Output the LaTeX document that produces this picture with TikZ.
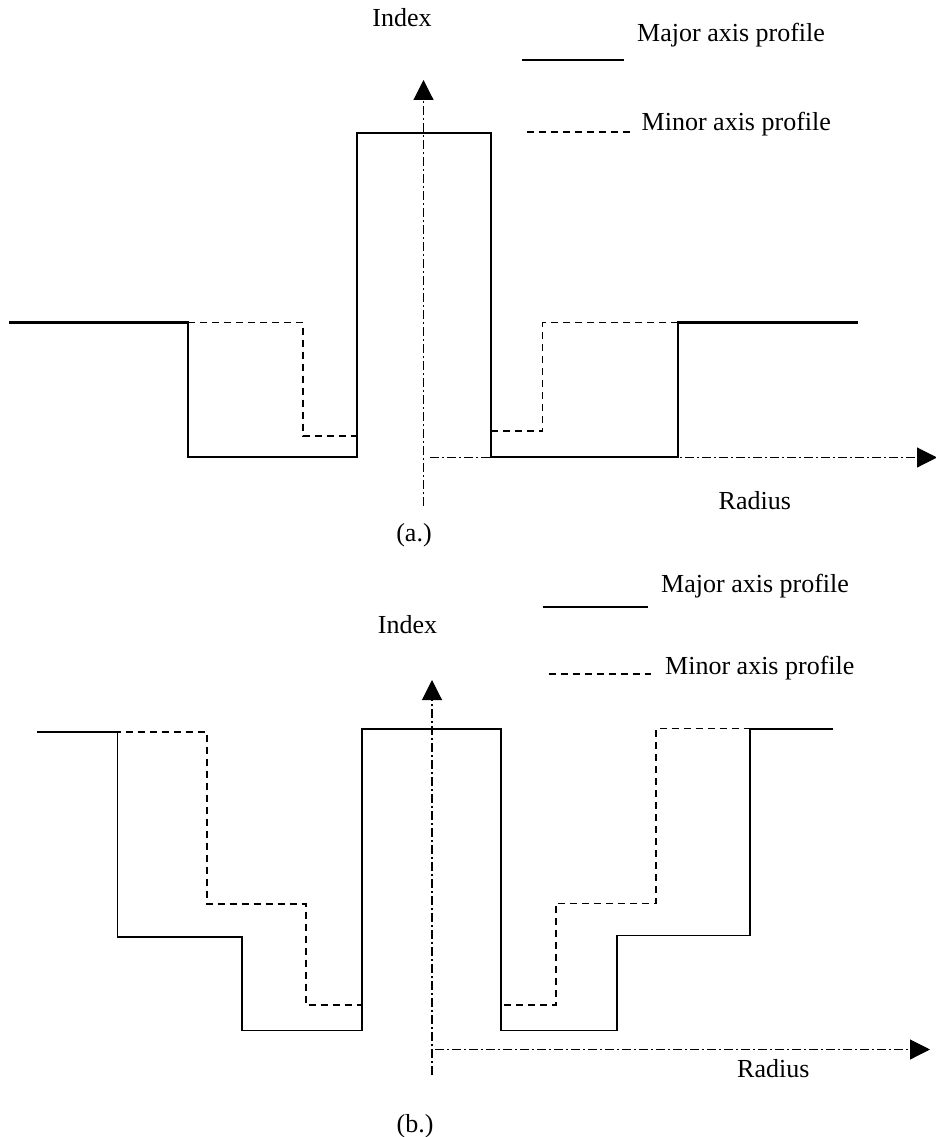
\documentclass[tikz,border=0pt]{standalone}
\usepackage{fontspec}
\setmainfont{Liberation Serif}
\usetikzlibrary{arrows.meta}
\begin{document}
\begin{tikzpicture}[x=1pt,y=-1pt,
  major/.style={line width=2.2pt, line join=miter},
  majorb/.style={line width=1.9pt, line join=miter},
  minor/.style={line width=1.7pt, dash pattern=on 7pt off 5pt},
  axisline/.style={line width=1.1pt, dash pattern=on 9pt off 3pt on 2pt off 3pt,
    -{Triangle[length=20pt,width=20pt]}},
  lbl/.style={font=\fontsize{26}{30}\selectfont, inner sep=0pt}]
\fill[white] (0,0) rectangle (935,1137);
\useasboundingbox (0,0) rectangle (935,1137);

% ---------------- (a) ----------------
\node[lbl, anchor=base] (aIndex) at (402,27) {Index};
\node[lbl, anchor=base west] (aMajor) at (637,41.5) {Major axis profile};
\node[lbl, anchor=base west] (aMinor) at (641.5,131) {Minor axis profile};
\node[lbl, anchor=base west] (aRadius) at (718.5,509) {Radius};
\node[lbl, anchor=base] (aCap) at (414,541) {(a.)};

\draw[major] (522,60) -- (624,60);
\draw[minor] (526.5,132) -- (630,132);

% step-index profile along the major axis
\draw[major] (9,322.5) -- (188,322.5) -- (188,457) -- (357,457) -- (357,133)
  -- (491,133) -- (491,457) -- (678,457) -- (678,322.5) -- (857.5,322.5);
% profile along the minor axis
\draw[minor] (188,322.5) -- (303,322.5) -- (303,436) -- (357,436);
\draw[minor] (491,431) -- (542.6,431) -- (542.6,322.5) -- (678,322.5);

% axes
\coordinate (aVbot) at (423.5,506);
\coordinate (aVtop) at (423.5,80);
\coordinate (aHbeg) at (430,457.5);
\coordinate (aHend) at (937,457.5);
\draw[axisline] (aVbot) -- (aVtop);
\draw[axisline] (aHbeg) -- (aHend);

% ---------------- (b) ----------------
\node[lbl, anchor=base west] (bMajor) at (661,592) {Major axis profile};
\node[lbl, anchor=base] (bIndex) at (407.5,633) {Index};
\node[lbl, anchor=base west] (bMinor) at (665,674) {Minor axis profile};
\node[lbl, anchor=base west] (bRadius) at (737,1077) {Radius};
\node[lbl, anchor=base] (bCap) at (415,1132) {(b.)};

\draw[majorb] (542.6,607) -- (648,607);
\draw[minor] (548.6,674) -- (651,674);

% multi-step profile along the major axis
\draw[majorb] (37,732) -- (117.5,732) -- (117.5,937) -- (242,937) -- (242,1030.5)
  -- (362,1030.5) -- (362,728.6) -- (501,728.6) -- (501,1030.5) -- (617,1030.5)
  -- (617,935.5) -- (749.6,935.5) -- (749.6,728.6) -- (833,728.6);
% profile along the minor axis
\draw[minor] (77.5,732) -- (207,732) -- (207,904) -- (306,904) -- (306,1005) -- (361,1005);
\draw[minor] (504,1005) -- (556,1005) -- (556,903.4) -- (656,903.4) -- (656,728.6) -- (781,728.6);

% axes
\coordinate (bVbot) at (432,1075);
\coordinate (bVtop) at (432,680);
\coordinate (bHbeg) at (435,1049.5);
\coordinate (bHend) at (930,1049.5);
\draw[axisline] (bVbot) -- (bVtop);
\draw[axisline] (bHbeg) -- (bHend);
\end{tikzpicture}
\end{document}
